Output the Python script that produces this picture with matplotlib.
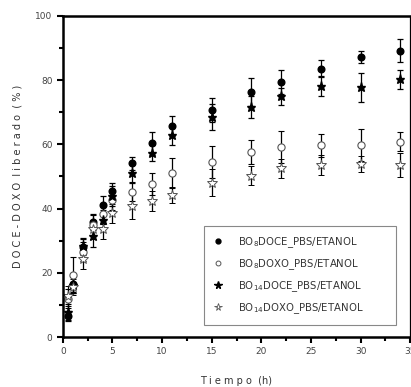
import matplotlib
matplotlib.use("Agg")
import matplotlib.pyplot as plt
from matplotlib.ticker import MultipleLocator
from matplotlib.lines import Line2D

tiempo = [0.5, 1, 2, 3, 4, 5, 7, 9, 11, 15, 19, 22, 26, 30, 34]
bo8_doce = [6.5, 16.4, 27.9, 35.9, 41.0, 45.6, 54.1, 60.3, 65.7, 70.7, 76.2, 79.4, 83.6, 87.2, 89.2]
bo8_doce_err = [1.5, 2.5, 2.5, 2.5, 3.0, 2.5, 2.0, 3.7, 3.0, 3.7, 4.4, 3.7, 2.6, 1.8, 3.5]
bo8_doxo = [12.0, 19.3, 26.6, 34.9, 38.3, 42.7, 45.3, 47.6, 51.0, 54.4, 57.5, 59.3, 59.7, 59.8, 60.8]
bo8_doxo_err = [3.0, 5.7, 3.0, 3.0, 3.0, 3.0, 3.0, 3.5, 4.7, 5.0, 3.7, 5.0, 3.5, 4.9, 3.0]
bo14_doce = [7.9, 16.2, 28.5, 31.5, 36.5, 43.9, 51.0, 57.2, 62.9, 68.6, 71.7, 74.9, 78.2, 77.8, 80.3]
bo14_doce_err = [2.5, 2.5, 2.5, 3.5, 3.0, 3.0, 3.0, 2.5, 3.0, 4.0, 3.5, 2.5, 3.0, 4.5, 3.0]
bo14_doxo = [12.8, 15.5, 24.2, 33.5, 33.6, 38.5, 40.8, 42.4, 44.2, 48.1, 50.2, 52.5, 53.6, 53.9, 53.6]
bo14_doxo_err = [3.0, 2.5, 3.0, 3.0, 3.0, 3.0, 4.0, 3.0, 2.5, 4.2, 3.0, 3.0, 3.0, 2.6, 3.8]

labels = [r"BO$_{8}$DOCE_PBS/ETANOL", r"BO$_{8}$DOXO_PBS/ETANOL",
          r"BO$_{14}$DOCE_PBS/ETANOL", r"BO$_{14}$DOXO_PBS/ETANOL"]

fig = plt.figure(figsize=(4.11, 3.87), dpi=100)
ax = fig.add_axes([0.153, 0.129, 0.845, 0.830])

common = dict(ls="none", ecolor="black", elinewidth=0.9, capsize=2.5, capthick=0.9)
ax.errorbar(tiempo, bo8_doce, yerr=bo8_doce_err, marker="o", ms=4.8,
            mfc="black", mec="black", **common)
ax.errorbar(tiempo, bo8_doxo, yerr=bo8_doxo_err, marker="o", ms=5.2,
            mfc="white", mec="#555555", mew=0.8, **common)
ax.errorbar(tiempo, bo14_doce, yerr=bo14_doce_err, marker="*", ms=6.8,
            mfc="black", mec="black", **common)
ax.errorbar(tiempo, bo14_doxo, yerr=bo14_doxo_err, marker="*", ms=7.2,
            mfc="white", mec="#555555", mew=0.7, **common)

ax.set_xlim(0, 35)
ax.set_ylim(0, 100)
ax.xaxis.set_major_locator(MultipleLocator(5))
ax.xaxis.set_minor_locator(MultipleLocator(2.5))
ax.yaxis.set_major_locator(MultipleLocator(20))
ax.yaxis.set_minor_locator(MultipleLocator(10))
ax.tick_params(which="both", direction="out", color="black", width=1.5,
               labelsize=6.5, labelcolor="#444444")
ax.tick_params(which="major", length=4)
ax.tick_params(which="minor", length=3)
for s in ["left", "bottom", "top"]:
    ax.spines[s].set_linewidth(1.8)
ax.spines["right"].set_linewidth(0.9)

ax.set_xlabel("T i e m p o  (h)", fontsize=7, color="#333333", labelpad=14)
ax.set_ylabel("D O C E - D O X O  l i b e r a d o  ( % )", fontsize=7,
              color="#333333", labelpad=9)

leg_handles = [
    Line2D([], [], ls="none", marker="o", ms=3.5, mfc="black", mec="black"),
    Line2D([], [], ls="none", marker="o", ms=3.5, mfc="white", mec="#555555", mew=0.7),
    Line2D([], [], ls="none", marker="*", ms=5.5, mfc="black", mec="black"),
    Line2D([], [], ls="none", marker="*", ms=5.5, mfc="white", mec="#555555", mew=0.6),
]
leg = ax.legend(leg_handles, labels, loc="upper left",
                bbox_to_anchor=(0.406, 0.04, 0.554, 0.306), mode="expand",
                fontsize=7.3, frameon=True, fancybox=False, edgecolor="#888888",
                framealpha=1, handlelength=1.0, handletextpad=1.5,
                labelspacing=0.7, borderpad=0.9, borderaxespad=0)
for t in leg.get_texts():
    t.set_color("#333333")
leg.get_frame().set_linewidth(0.8)

fig.savefig("out.png", dpi=100)
